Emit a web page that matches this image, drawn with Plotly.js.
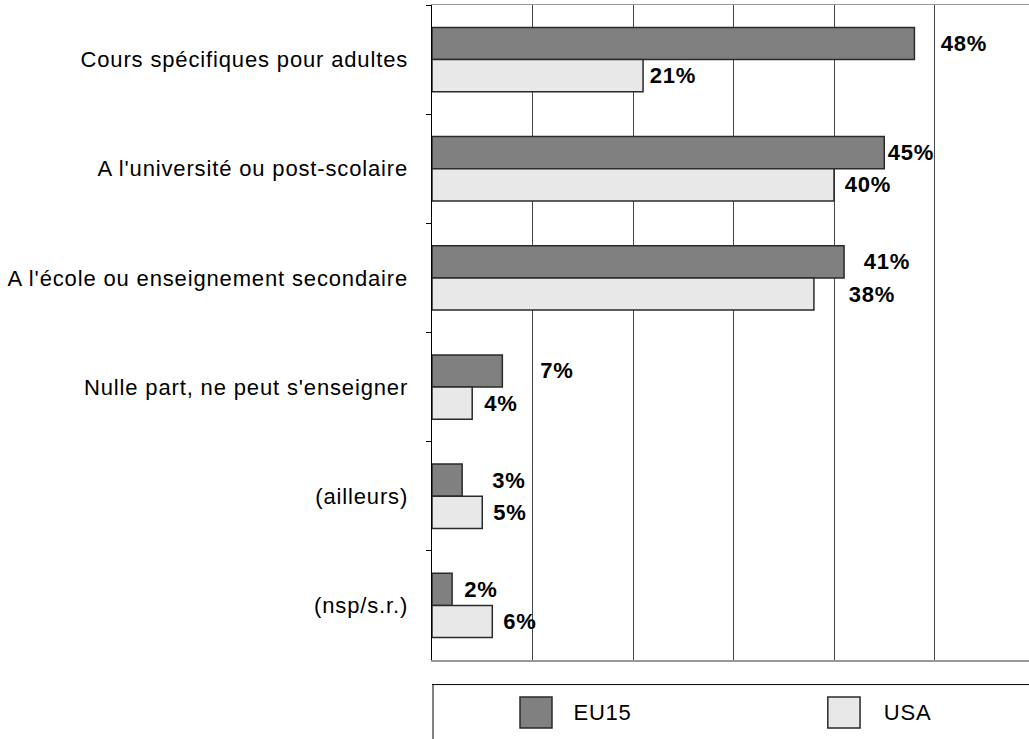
<!DOCTYPE html>
<html>
<head>
<meta charset="utf-8">
<script src="https://cdn.plot.ly/plotly-3.0.1.min.js"></script>
<style>
body{margin:0;padding:0;background:#fff;}
#chart .ytick text{letter-spacing:0.85px;}
#chart .annotation-text{letter-spacing:0.8px;}
</style>
</head>
<body>
<div id="chart" style="width:1029px;height:739px;"></div>
<script>
const categories = [
  "Cours spécifiques pour adultes",
  "A l'université ou post-scolaire",
  "A l'école ou enseignement secondaire",
  "Nulle part, ne peut s'enseigner",
  "(ailleurs)",
  "(nsp/s.r.)"
];
const eu15 = [48, 45, 41, 7, 3, 2];
const usa = [21, 40, 38, 4, 5, 6];
const seriesNames = ["EU15", "USA"];
// label pixel offsets (style only)
const euLabelShift = [26, 3, 19, 37, 29, 11];
const usaLabelShift = [6, 10, 34, 11, 10, 10];

const euColor = "#808080", usaColor = "#e8e8e8", edge = "#2a2a2a";
const font = "Arial, 'Liberation Sans', sans-serif";

const traces = [
  {type: "bar", orientation: "h", name: seriesNames[0], y: categories, x: eu15,
   marker: {color: euColor, line: {color: edge, width: 1.5}}, hoverinfo: "x+y"},
  {type: "bar", orientation: "h", name: seriesNames[1], y: categories, x: usa,
   marker: {color: usaColor, line: {color: edge, width: 1.5}}, hoverinfo: "x+y"}
];

const annotations = [];
function addLabels(vals, shifts, offset) {
  vals.forEach((v, i) => {
    annotations.push({
      x: v, y: i + offset, xref: "x", yref: "y",
      text: "<b>" + v + "%</b>", showarrow: false,
      xanchor: "left", yanchor: "middle", xshift: shifts[i],
      font: {family: font, size: 22, color: "#000"}
    });
  });
}
const bw = (1 - 0.41) / 2;
addLabels(eu15, euLabelShift, -bw / 2);
addLabels(usa, usaLabelShift, bw / 2);

// custom legend
const shapes = [
  {type: "line", xref: "paper", yref: "paper", x0: 0, x1: 1.02, y0: -0.0375, y1: -0.0375,
   line: {color: "#000", width: 1}},
  {type: "line", xref: "paper", yref: "paper", x0: 0.0017, x1: 0.0017, y0: -0.0375, y1: -0.13,
   line: {color: "#000", width: 1}},
  {type: "rect", xref: "paper", yref: "paper", x0: 0.1474, x1: 0.201, y0: -0.0565, y1: -0.1038,
   fillcolor: euColor, line: {color: edge, width: 1.5}},
  {type: "rect", xref: "paper", yref: "paper", x0: 0.663, x1: 0.717, y0: -0.0565, y1: -0.1038,
   fillcolor: usaColor, line: {color: edge, width: 1.5}}
];
annotations.push({xref: "paper", yref: "paper", x: 0.236, y: -0.0794, xanchor: "left", yanchor: "middle",
  text: seriesNames[0], showarrow: false, font: {family: font, size: 22, color: "#000"}});
annotations.push({xref: "paper", yref: "paper", x: 0.755, y: -0.0794, xanchor: "left", yanchor: "middle",
  text: seriesNames[1], showarrow: false, font: {family: font, size: 22, color: "#000"}});

const layout = {
  width: 1029, height: 739,
  margin: {l: 432, r: 0, t: 5, b: 79, pad: 0},
  paper_bgcolor: "#fff", plot_bgcolor: "#fff",
  barmode: "group", bargap: 0.41, bargroupgap: 0,
  showlegend: false,
  font: {family: font, size: 20, color: "#000"},
  xaxis: {range: [0, 59.4], dtick: 10, showticklabels: false, ticks: "",
          showgrid: true, gridcolor: "#444", gridwidth: 1,
          zeroline: false, showline: true, mirror: true, linecolor: "#999", linewidth: 1.5,
          fixedrange: true},
  yaxis: {type: "category", autorange: "reversed", tickson: "boundaries",
          ticks: "outside", ticklen: 5, tickcolor: "#000", tickwidth: 1,
          showgrid: false, showline: true, linecolor: "#000", linewidth: 1.5,
          ticklabelstandoff: 18, tickfont: {family: font, size: 22, color: "#000"},
          fixedrange: true},
  shapes: shapes,
  annotations: annotations
};

Plotly.newPlot("chart", traces, layout, {displayModeBar: false, staticPlot: true});
</script>
</body>
</html>
